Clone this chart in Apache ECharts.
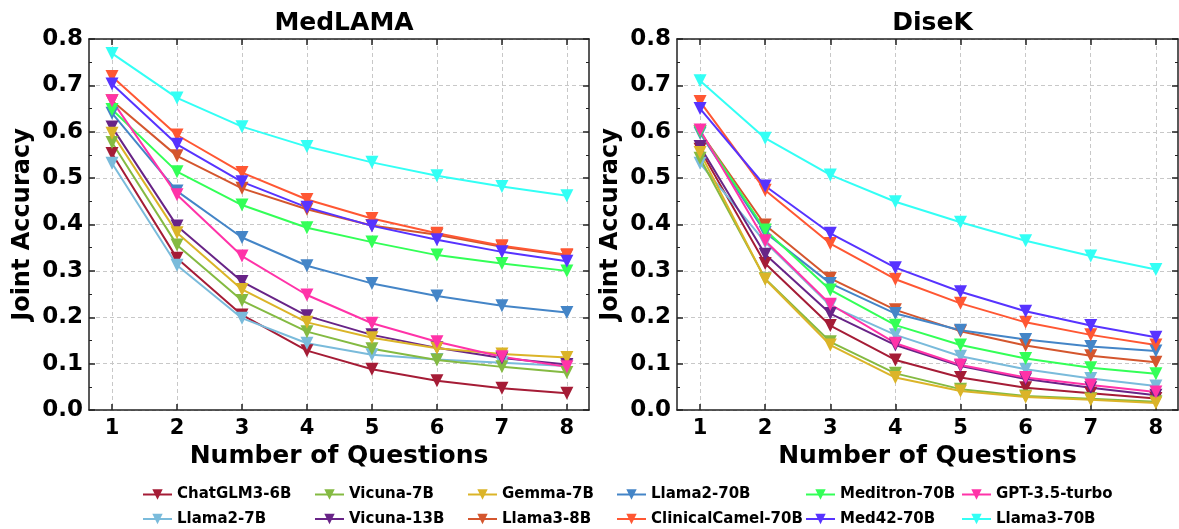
<!DOCTYPE html>
<html>
<head>
<meta charset="utf-8">
<script src="https://cdn.jsdelivr.net/npm/echarts@6/dist/echarts.min.js"></script>
<style>
  html, body { margin: 0; padding: 0; background: #fff; }
  #main { width: 1179px; height: 529px; }
</style>
</head>
<body>
<div id="main"></div>
<script>
// number of questions
var questions = [1, 2, 3, 4, 5, 6, 7, 8];
var yTicks = [0, 0.1, 0.2, 0.3, 0.4, 0.5, 0.6, 0.7, 0.8];
var panelTitles = ['MedLAMA', 'DiseK'];

var models = ['ChatGLM3-6B', 'Llama2-7B', 'Vicuna-7B', 'Vicuna-13B', 'Gemma-7B', 'Llama3-8B',
  'Llama2-70B', 'ClinicalCamel-70B', 'Meditron-70B', 'Med42-70B', 'GPT-3.5-turbo', 'Llama3-70B'];
var colors = ['#A51C36', '#7ABBDB', '#84BA42', '#682487', '#DBB428', '#D4562E',
  '#4485C7', '#FF5733', '#33FF57', '#5733FF', '#FF33A8', '#33FFF5'];

// MedLAMA
var medChatGLM = [0.553, 0.327, 0.205, 0.128, 0.088, 0.063, 0.047, 0.036];
var medLlama2_7 = [0.532, 0.312, 0.198, 0.144, 0.119, 0.109, 0.102, 0.095];
var medVicuna7 = [0.577, 0.356, 0.236, 0.169, 0.132, 0.108, 0.093, 0.081];
var medVicuna13 = [0.610, 0.397, 0.277, 0.203, 0.162, 0.134, 0.112, 0.098];
var medGemma = [0.597, 0.382, 0.260, 0.189, 0.156, 0.133, 0.121, 0.113];
var medLlama3_8 = [0.667, 0.548, 0.478, 0.433, 0.398, 0.378, 0.352, 0.333];
var medLlama2_70 = [0.640, 0.472, 0.372, 0.311, 0.273, 0.246, 0.225, 0.210];
var medClinCamel = [0.719, 0.593, 0.512, 0.454, 0.413, 0.381, 0.354, 0.335];
var medMeditron = [0.648, 0.514, 0.442, 0.393, 0.362, 0.334, 0.316, 0.300];
var medMed42 = [0.703, 0.573, 0.492, 0.437, 0.397, 0.367, 0.341, 0.321];
var medGPT = [0.667, 0.464, 0.332, 0.248, 0.187, 0.147, 0.115, 0.093];
var medLlama3_70 = [0.769, 0.673, 0.611, 0.568, 0.534, 0.505, 0.482, 0.462];

// DiseK
var disChatGLM = [0.562, 0.316, 0.182, 0.108, 0.070, 0.048, 0.036, 0.025];
var disLlama2_7 = [0.532, 0.362, 0.225, 0.162, 0.116, 0.088, 0.068, 0.052];
var disVicuna7 = [0.543, 0.283, 0.147, 0.079, 0.045, 0.030, 0.024, 0.018];
var disVicuna13 = [0.568, 0.336, 0.208, 0.140, 0.095, 0.067, 0.048, 0.032];
var disGemma = [0.555, 0.282, 0.140, 0.070, 0.041, 0.028, 0.022, 0.015];
var disLlama3_8 = [0.600, 0.399, 0.284, 0.216, 0.170, 0.139, 0.117, 0.103];
var disLlama2_70 = [0.597, 0.383, 0.273, 0.208, 0.172, 0.152, 0.137, 0.127];
var disClinCamel = [0.665, 0.474, 0.359, 0.282, 0.230, 0.189, 0.162, 0.140];
var disMeditron = [0.600, 0.388, 0.259, 0.183, 0.140, 0.111, 0.091, 0.078];
var disMed42 = [0.650, 0.483, 0.381, 0.307, 0.255, 0.213, 0.182, 0.157];
var disGPT = [0.604, 0.365, 0.228, 0.144, 0.097, 0.070, 0.054, 0.039];
var disLlama3_70 = [0.710, 0.586, 0.507, 0.449, 0.405, 0.365, 0.332, 0.303];

var panelData = [
  [medChatGLM, medLlama2_7, medVicuna7, medVicuna13, medGemma, medLlama3_8,
   medLlama2_70, medClinCamel, medMeditron, medMed42, medGPT, medLlama3_70],
  [disChatGLM, disLlama2_7, disVicuna7, disVicuna13, disGemma, disLlama3_8,
   disLlama2_70, disClinCamel, disMeditron, disMed42, disGPT, disLlama3_70]
];

var font = 'DejaVu Sans';
var lineCol = '#222';
var grids = [
  { left: 89, width: 500, top: 39, height: 371 },
  { left: 677, width: 501, top: 39, height: 371 }
];

var xAxes = [], yAxes = [], series = [], titles = [];
grids.forEach(function (g, p) {
  titles.push({
    text: panelTitles[p], left: g.left + g.width / 2, top: 6, textAlign: 'center',
    textStyle: { fontFamily: font, fontSize: 25, fontWeight: 'bold', color: '#000' }
  });
  // bottom + mirrored top
  [0, 1].forEach(function (k) {
    xAxes.push({
      type: 'value', gridIndex: p, position: k ? 'top' : 'bottom',
      min: 0.646, max: 8.34,
      name: k ? '' : 'Number of Questions', nameLocation: 'middle', nameGap: 32,
      nameTextStyle: { fontFamily: font, fontSize: 25, fontWeight: 'bold', color: '#000' },
      axisLine: { show: true, onZero: false, lineStyle: { color: lineCol, width: 1.5 } },
      axisTick: { show: true, inside: true, length: 6, customValues: questions, lineStyle: { color: lineCol, width: 1.5 } },
      axisLabel: { show: !k, customValues: questions, margin: 8, fontFamily: font, fontSize: 21, fontWeight: 'bold', color: '#000' },
      splitLine: { show: !k, lineStyle: { color: '#c8c8c8', type: [4, 3], width: 1 } }
    });
  });
  // left + mirrored right
  [0, 1].forEach(function (k) {
    yAxes.push({
      type: 'value', gridIndex: p, position: k ? 'right' : 'left',
      min: yTicks[0], max: yTicks[yTicks.length - 1], interval: 0.1,
      name: k ? '' : 'Joint Accuracy', nameLocation: 'middle', nameGap: 54,
      nameTextStyle: { fontFamily: font, fontSize: 24, fontWeight: 'bold', color: '#000' },
      axisLine: { show: true, lineStyle: { color: lineCol, width: 1.5 } },
      axisTick: { show: true, inside: true, length: 6, lineStyle: { color: lineCol, width: 1.5 } },
      minorTick: { show: true, splitNumber: 2, length: 3, lineStyle: { color: lineCol, width: 1 } },
      axisLabel: { show: !k, margin: 6, fontFamily: font, fontSize: 23, fontWeight: 'bold', color: '#000',
        formatter: function (v) { return v.toFixed(1); } },
      splitLine: { show: !k, lineStyle: { color: '#c8c8c8', type: [4, 3], width: 1 } }
    });
  });
  panelData[p].forEach(function (vals, i) {
    series.push({
      name: models[i], type: 'line', xAxisIndex: p * 2, yAxisIndex: p * 2,
      data: vals.map(function (v, j) { return [questions[j], v]; }),
      symbol: 'triangle', symbolRotate: 180, symbolSize: 13,
      lineStyle: { color: colors[i], width: 2 },
      itemStyle: { color: colors[i] },
      animation: false
    });
  });
});

// legend: 6 columns of 2, filled column by column like matplotlib
var colLeft = [142, 314, 467, 616, 805, 961];
var legends = colLeft.map(function (x, c) {
  return {
    orient: 'vertical', left: x, top: 487, height: 60, padding: 0,
    data: [models[c * 2], models[c * 2 + 1]],
    itemWidth: 29, itemHeight: 13, itemGap: 9.5,
    textStyle: { fontFamily: font, fontSize: 15, fontWeight: 'bold', color: '#000' }
  };
});

var chart = echarts.init(document.getElementById('main'));
chart.setOption({
  backgroundColor: '#fff',
  animation: false,
  title: titles,
  grid: grids,
  xAxis: xAxes,
  yAxis: yAxes,
  legend: legends,
  series: series
});
</script>
</body>
</html>
